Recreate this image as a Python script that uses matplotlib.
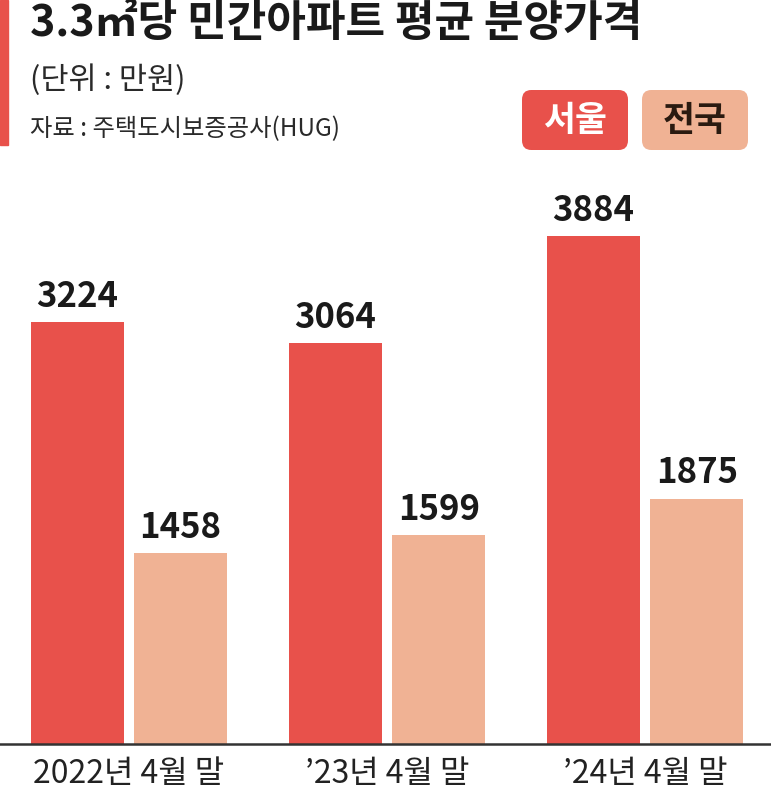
import matplotlib
matplotlib.use("Agg")
import matplotlib.pyplot as plt
from matplotlib.patches import FancyBboxPatch, Rectangle

plt.rcParams['font.family'] = ['Noto Sans CJK KR', 'DejaVu Sans']

categories = ["2022년 4월 말", "’23년 4월 말", "’24년 4월 말"]
seoul = [3224, 3064, 3884]
national = [1458, 1599, 1875]
series_names = ["서울", "전국"]

c_seoul = "#E8514B"
c_nat = "#F0B294"

fig = plt.figure(figsize=(7.71, 8.0), dpi=100)
ax = fig.add_axes([0, 0.07, 1, 0.73])

x = list(range(len(categories)))
w = 0.36
off = 0.2
xs = [i - off for i in x]
xn = [i + off for i in x]
ax.bar(xs, seoul, width=w, color=c_seoul)
ax.bar(xn, national, width=w, color=c_nat)

for xi, v in zip(xs, seoul):
    ax.annotate(f"{v}", (xi, v), xytext=(0, 6), textcoords="offset points",
                ha="center", va="bottom", fontsize=25, fontweight="bold", color="#1a1a1a")
for xi, v in zip(xn, national):
    ax.annotate(f"{v}", (xi, v), xytext=(0, 6), textcoords="offset points",
                ha="center", va="bottom", fontsize=25, fontweight="bold", color="#1a1a1a")

ax.set_xlim(-0.5, 2.488)
ax.set_ylim(0, 4465)
for s in ["top", "right", "left"]:
    ax.spines[s].set_visible(False)
ax.spines["bottom"].set_linewidth(1.8)
ax.spines["bottom"].set_color("#333333")
ax.set_yticks([])
ax.set_xticks(x)
ax.set_xticklabels(categories, fontsize=23, color="#222222")
ax.tick_params(axis="x", length=0, pad=10)

# title area
fig.patches.append(Rectangle((0, 1 - 145/800), 8/771, 145/800, transform=fig.transFigure,
                             color=c_seoul, zorder=5))
fig.text(30/771, 1 - 23/800, "3.3㎡당 민간아파트 평균 분양가격", fontsize=31, fontweight="bold",
         color="#1a1a1a", ha="left", va="center")
fig.text(30/771, 1 - 80/800, "(단위 : 만원)", fontsize=22, color="#2a2a2a", ha="left", va="center")
fig.text(30/771, 1 - 129/800, "자료 : 주택도시보증공사(HUG)", fontsize=17.5, color="#2a2a2a",
         ha="left", va="center")

# legend boxes
boxes = [(522, c_seoul, "white"), (642, c_nat, "#2a1a10")]
for (bx, col, tc), name in zip(boxes, series_names):
    p = FancyBboxPatch((bx/771, 1 - 150/800), 106/771, 60/800,
                       boxstyle="round,pad=0,rounding_size=0.012",
                       transform=fig.transFigure, facecolor=col, edgecolor="none")
    fig.patches.append(p)
    fig.text((bx + 53)/771, 1 - 120/800, name, fontsize=25, fontweight="bold", color=tc,
             ha="center", va="center")

fig.savefig("out.png", dpi=100)
